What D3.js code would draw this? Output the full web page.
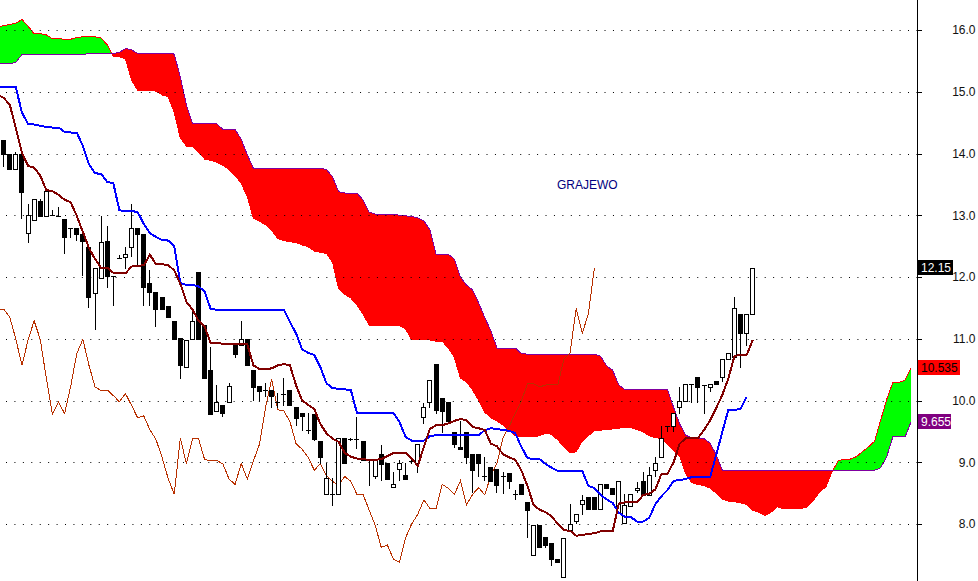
<!DOCTYPE html>
<html><head><meta charset="utf-8">
<script src="https://cdn.jsdelivr.net/npm/d3@7"></script>
<style>body{margin:0;background:#fff}svg{display:block}</style>
</head><body>
<svg id="chart" width="978" height="581"></svg>
<script>
// ---------- DATA ----------
const title = "GRAJEWO";
const yTicks = [8, 9, 10, 11, 12, 13, 14, 15, 16];
// candles, index 0..123
const opens  = [14.22,13.99,13.75,13.99,12.72,12.93,13.23,12.99,13.00,12.99,12.94,12.79,12.79,12.69,12.49,11.74,11.98,12.58,12.02,12.31,12.33,12.49,12.80,12.69,11.90,11.75,11.68,11.53,11.29,11.01,10.54,10.99,12.08,11.22,10.49,9.83,9.93,9.98,10.90,10.90,10.99,10.49,10.23,10.17,10.17,9.98,10.11,10.17,9.90,9.79,9.53,9.78,9.34,8.48,8.48,8.48,9.39,9.38,9.38,9.34,9.03,8.78,9.13,8.98,8.60,8.89,8.79,9.02,8.98,9.74,9.98,10.59,10.04,9.98,9.49,9.24,9.49,9.13,9.13,8.78,8.93,8.89,8.77,8.83,8.48,8.64,8.35,7.50,7.98,7.79,7.69,7.43,7.14,7.90,8.05,8.32,8.43,8.43,8.24,8.64,8.58,8.20,8.01,8.29,8.55,8.70,8.47,8.87,9.08,9.58,9.58,9.89,9.99,10.27,10.38,10.25,10.22,10.32,10.38,10.67,10.70,11.40,11.09,11.40];
const highs  = [14.22,13.99,14.02,13.99,13.19,13.27,13.27,13.39,13.08,13.13,12.94,12.79,12.79,12.69,12.49,12.14,12.99,12.83,12.02,12.35,12.49,13.19,12.80,12.69,12.12,11.75,11.68,11.53,11.29,11.01,10.98,11.47,12.08,11.22,10.87,10.25,9.93,10.29,10.90,11.28,10.99,10.49,10.23,10.28,10.17,10.12,10.36,10.17,9.90,9.79,9.80,9.78,9.34,8.98,8.74,9.39,9.39,9.39,9.74,9.34,9.04,9.03,9.28,8.98,8.85,9.04,8.98,9.04,9.29,9.96,10.34,10.59,10.04,9.98,9.49,9.66,9.49,9.13,9.13,9.08,8.93,8.89,8.85,8.83,8.55,8.64,8.35,7.98,7.98,7.79,7.69,7.43,7.78,8.32,8.16,8.47,8.43,8.43,8.64,8.64,8.58,8.70,8.49,8.48,8.68,8.85,8.92,9.08,9.58,9.58,9.79,10.22,10.27,10.27,10.38,10.25,10.26,10.32,10.67,10.77,11.67,11.40,11.40,12.15];
const lows   = [13.80,13.75,13.75,12.95,12.56,12.93,12.99,12.99,13.00,12.98,12.39,12.64,12.60,12.03,11.51,11.15,11.98,11.84,11.55,12.31,12.15,12.34,12.21,11.55,11.55,11.21,11.48,11.35,10.99,10.36,10.54,10.99,10.99,10.36,9.78,9.83,9.75,9.98,10.70,10.90,10.57,10.01,10.01,10.08,9.90,9.90,9.93,9.92,9.60,9.52,9.48,9.36,8.98,8.48,8.31,8.48,8.98,9.36,9.23,9.04,8.63,8.74,8.71,8.73,8.60,8.71,8.73,8.99,8.85,9.64,9.90,9.80,9.49,9.66,9.25,9.21,8.99,8.52,8.77,8.71,8.69,8.52,8.50,8.59,8.40,8.48,7.79,7.50,7.62,7.63,7.34,7.38,7.14,7.90,8.02,8.17,8.25,8.25,8.24,8.58,8.48,8.20,8.01,8.29,8.52,8.47,8.47,8.77,9.08,9.50,9.50,9.79,9.99,9.97,9.98,9.80,10.15,10.26,10.31,10.67,10.70,10.55,10.90,11.40];
const closes = [13.99,13.75,13.99,13.38,13.00,13.27,12.99,13.39,13.00,12.99,12.64,12.79,12.69,12.59,11.67,12.14,12.56,12.02,12.00,12.31,12.37,12.80,12.69,11.84,11.75,11.48,11.48,11.35,10.99,10.57,10.98,11.29,10.99,10.36,9.78,9.97,9.79,10.23,10.76,10.99,10.57,10.22,10.16,10.17,10.08,9.98,10.11,9.92,9.72,9.75,9.53,9.37,9.08,8.74,8.48,9.39,8.98,9.38,9.38,9.04,9.03,9.03,8.97,8.73,8.64,8.98,8.73,9.02,9.29,9.89,10.34,9.85,9.83,9.66,9.30,9.21,9.08,8.87,8.98,8.78,8.69,8.63,8.77,8.69,8.48,8.48,8.23,7.98,7.62,7.66,7.43,7.38,7.78,8.00,8.16,8.39,8.25,8.25,8.64,8.58,8.48,8.70,8.31,8.48,8.59,8.47,8.79,8.98,9.40,9.58,9.79,9.99,10.27,10.27,10.22,10.25,10.26,10.26,10.67,10.77,11.49,11.09,11.40,12.15];
// lines below start at index -1 (left edge of the picture)
const tenkan = [14.95,14.90,14.79,14.41,14.01,13.80,13.77,13.64,13.41,13.39,13.33,13.25,13.21,12.99,12.73,12.47,12.29,12.15,12.15,12.07,12.06,12.06,12.17,12.18,12.19,12.36,12.21,12.21,12.19,12.11,11.89,11.60,11.47,11.29,11.19,10.93,10.93,10.92,10.91,10.91,10.91,10.91,10.57,10.51,10.51,10.52,10.57,10.59,10.57,10.25,10.00,9.93,9.86,9.62,9.47,9.38,9.33,9.15,9.09,9.06,9.05,9.04,9.04,9.05,9.10,9.15,9.15,9.15,9.06,8.94,9.25,9.54,9.60,9.60,9.63,9.67,9.70,9.68,9.57,9.55,9.52,9.30,9.26,9.13,9.08,9.04,8.87,8.62,8.31,8.23,8.19,8.12,8.00,7.90,7.89,7.81,7.82,7.84,7.85,7.88,7.88,7.88,8.33,8.35,8.35,8.35,8.47,8.49,8.56,8.81,8.81,9.00,9.30,9.39,9.39,9.39,9.52,9.68,9.88,10.09,10.36,10.72,10.74,10.74,10.98];
const kijun = [15.07,15.07,15.07,15.07,14.66,14.48,14.47,14.45,14.43,14.42,14.42,14.35,14.34,14.34,14.12,13.83,13.68,13.67,13.54,13.52,13.08,13.07,13.07,13.05,12.86,12.71,12.65,12.60,12.59,12.50,11.90,11.87,11.87,11.85,11.76,11.48,11.47,11.47,11.47,11.47,11.47,11.47,11.47,11.47,11.47,11.47,11.47,11.47,11.27,11.09,10.83,10.77,10.74,10.54,10.28,10.20,10.19,10.18,10.17,9.80,9.80,9.80,9.80,9.80,9.80,9.80,9.65,9.41,9.35,9.35,9.35,9.42,9.44,9.44,9.44,9.44,9.44,9.44,9.44,9.44,9.52,9.55,9.54,9.52,9.51,9.47,9.25,9.07,9.05,9.05,8.97,8.91,8.86,8.86,8.86,8.86,8.86,8.62,8.58,8.47,8.40,8.34,8.18,8.12,8.11,8.04,8.04,8.10,8.32,8.45,8.55,8.70,8.71,8.73,8.76,8.76,8.76,8.76,9.12,9.49,9.85,9.85,9.86,10.06];
// cloud spans, index -1..149
const spanA = [16.05,16.07,16.09,16.11,16.17,16.06,15.94,15.94,15.92,15.86,15.86,15.85,15.85,15.88,15.89,15.89,15.89,15.87,15.76,15.57,15.57,15.53,15.19,15.02,15.02,15.02,15.01,14.95,14.92,14.67,14.25,14.12,14.11,14.02,13.91,13.89,13.86,13.81,13.74,13.64,13.52,13.30,12.95,12.90,12.85,12.76,12.62,12.59,12.57,12.56,12.52,12.49,12.42,12.40,12.38,12.24,11.81,11.72,11.66,11.55,11.40,11.22,11.21,11.21,11.21,11.21,11.21,11.16,10.98,10.98,10.98,10.98,10.96,10.96,10.85,10.70,10.36,10.30,10.17,10.00,9.81,9.72,9.67,9.60,9.52,9.43,9.42,9.41,9.41,9.43,9.47,9.45,9.36,9.25,9.15,9.17,9.34,9.43,9.51,9.52,9.53,9.54,9.55,9.57,9.56,9.53,9.49,9.43,9.40,9.38,9.29,9.20,9.10,8.81,8.67,8.64,8.62,8.58,8.50,8.40,8.37,8.36,8.34,8.32,8.22,8.19,8.14,8.19,8.28,8.25,8.25,8.25,8.25,8.28,8.39,8.52,8.60,8.84,9.02,9.05,9.05,9.09,9.17,9.25,9.34,9.68,10.02,10.29,10.29,10.33,10.535];
const spanB = [15.45,15.45,15.45,15.48,15.60,15.60,15.60,15.60,15.60,15.60,15.60,15.60,15.60,15.60,15.60,15.62,15.62,15.62,15.62,15.62,15.64,15.70,15.68,15.62,15.62,15.62,15.62,15.62,15.62,15.61,15.24,14.79,14.48,14.48,14.48,14.48,14.48,14.39,14.39,14.39,14.23,13.98,13.76,13.76,13.76,13.76,13.76,13.76,13.76,13.76,13.76,13.76,13.76,13.76,13.74,13.62,13.38,13.36,13.36,13.36,13.25,13.05,13.02,13.02,13.02,13.02,13.00,12.99,12.98,12.96,12.91,12.76,12.37,12.37,12.37,12.29,12.00,11.87,11.79,11.58,11.34,11.13,10.85,10.85,10.85,10.85,10.76,10.75,10.75,10.75,10.75,10.75,10.75,10.75,10.75,10.75,10.75,10.75,10.75,10.72,10.56,10.49,10.25,10.18,10.18,10.18,10.18,10.18,10.18,10.18,10.18,9.89,9.62,9.44,9.39,9.39,9.38,9.31,9.12,8.87,8.87,8.87,8.87,8.87,8.87,8.87,8.87,8.87,8.87,8.87,8.87,8.87,8.87,8.87,8.87,8.87,8.87,8.87,8.87,8.87,8.87,8.87,8.87,8.87,8.87,8.91,9.09,9.41,9.41,9.41,9.655];
const chikouShift = 26;
const lastPrice = 12.15;

// ---------- DRAW ----------
const svg = d3.select("#chart");
const W = 978, H = 581, axisX = 917;
const x = d3.scaleLinear().domain([0, 149]).range([3.7, 911.1]);
const y = d3.scaleLinear().domain([8, 16]).range([524, 30]);

const cloud = spanA.map((a, k) => ({i: k - 1, a, b: spanB[k]}));
const defs = svg.append("defs");
defs.append("clipPath").attr("id", "aboveB").append("path")
  .attr("d", d3.area().x(d => x(d.i)).y0(0).y1(d => y(d.b))(cloud));
defs.append("clipPath").attr("id", "aboveA").append("path")
  .attr("d", d3.area().x(d => x(d.i)).y0(0).y1(d => y(d.a))(cloud));
defs.append("clipPath").attr("id", "plot").append("rect")
  .attr("x", 0).attr("y", 0).attr("width", axisX).attr("height", H);

const band = d3.area().x(d => x(d.i)).y0(d => y(d.a)).y1(d => y(d.b));
const plot = svg.append("g").attr("clip-path", "url(#plot)");
plot.append("path").attr("d", band(cloud)).attr("fill", "#00ff00").attr("clip-path", "url(#aboveB)");
plot.append("path").attr("d", band(cloud)).attr("fill", "#ff0000").attr("clip-path", "url(#aboveA)");
plot.append("path").attr("d", d3.line().x(d => x(d.i)).y(d => y(d.a))(cloud))
  .attr("fill", "none").attr("stroke", "#ff0000").attr("stroke-width", 1).attr("shape-rendering", "crispEdges");
plot.append("path").attr("d", d3.line().x(d => x(d.i)).y(d => y(d.b))(cloud))
  .attr("fill", "none").attr("stroke", "#8000a0").attr("stroke-width", 1).attr("shape-rendering", "crispEdges");

// grid (dotted)
plot.append("g").selectAll("line").data(yTicks).join("line")
  .attr("x1", 6).attr("x2", axisX).attr("y1", d => Math.round(y(d)) + 0.5).attr("y2", d => Math.round(y(d)) + 0.5)
  .attr("stroke", "#000").attr("stroke-width", 1).attr("stroke-dasharray", "1 7.43");

// chikou
const chik = closes.map((c, k) => ({i: k - chikouShift, v: c})).filter(d => d.i >= -1);
plot.append("path").attr("d", d3.line().x(d => x(d.i)).y(d => y(d.v))(chik))
  .attr("fill", "none").attr("stroke", "#b83000").attr("stroke-width", 1).attr("shape-rendering", "crispEdges");

// candles
const candles = opens.map((o, i) => ({i, o, h: highs[i], l: lows[i], c: closes[i]}));
const cg = plot.append("g").attr("shape-rendering", "crispEdges");
candles.forEach(d => {
  const bx = Math.round(x(d.i) - 2.5);
  cg.append("line").attr("x1", bx + 2.5).attr("x2", bx + 2.5)
    .attr("y1", Math.round(y(d.h))).attr("y2", Math.round(y(d.l)) + 1).attr("stroke", "#000");
  const top = Math.round(y(Math.max(d.o, d.c))), bot = Math.round(y(Math.min(d.o, d.c)));
  if (bot - top < 2) {
    cg.append("rect").attr("x", bx).attr("y", top).attr("width", 5).attr("height", Math.max(1, bot - top)).attr("fill", "#000");
  } else if (d.c >= d.o) {
    cg.append("rect").attr("x", bx + 0.5).attr("y", top + 0.5).attr("width", 4).attr("height", bot - top)
      .attr("fill", "#fff").attr("stroke", "#000");
  } else {
    cg.append("rect").attr("x", bx).attr("y", top).attr("width", 5).attr("height", bot - top + 1).attr("fill", "#000");
  }
});

// kijun & tenkan
plot.append("path").attr("d", d3.line().x((v, k) => x(k - 1)).y(v => y(v))(kijun))
  .attr("fill", "none").attr("stroke", "#0000ff").attr("stroke-width", 2).attr("shape-rendering", "crispEdges");
plot.append("path").attr("d", d3.line().x((v, k) => x(k - 1)).y(v => y(v))(tenkan))
  .attr("fill", "none").attr("stroke", "#800000").attr("stroke-width", 2).attr("shape-rendering", "crispEdges");

// title
svg.append("text").attr("x", 557).attr("y", 188.5).text(title)
  .attr("font-family", "Liberation Sans, Arial, sans-serif").attr("font-size", 12).attr("fill", "#000080");

// right axis
svg.append("line").attr("x1", axisX + 0.5).attr("x2", axisX + 0.5).attr("y1", 0).attr("y2", H)
  .attr("stroke", "#000").attr("stroke-width", 1);
const ax = svg.append("g").attr("transform", `translate(${axisX + 0.5},0)`)
  .call(d3.axisRight(y).tickValues(yTicks).tickFormat(d3.format(".1f")).tickSize(4).tickPadding(0));
ax.select(".domain").remove();
ax.selectAll(".tick line").attr("stroke", "#000").attr("shape-rendering", "crispEdges");
ax.selectAll(".tick text").attr("x", 58).attr("text-anchor", "end")
  .attr("font-family", "Liberation Sans, Arial, sans-serif").attr("font-size", 12).attr("fill", "#111");

// value boxes
const boxes = [
  {v: lastPrice, label: "12.15", fill: "#000", color: "#fff", w: 35},
  {v: spanA[spanA.length - 1], label: "10.535", fill: "#ff0000", color: "#000", w: 42},
  {v: spanB[spanB.length - 1], label: "9.655", fill: "#800080", color: "#fff", w: 33},
];
boxes.forEach(b => {
  const cy = y(b.v);
  svg.append("rect").attr("x", axisX + 1).attr("y", Math.round(cy - 7.5)).attr("width", b.w).attr("height", 15).attr("fill", b.fill);
  svg.append("text").attr("x", axisX + 4).attr("y", Math.round(cy + 4.5)).text(b.label)
    .attr("font-family", "Liberation Sans, Arial, sans-serif").attr("font-size", 12).attr("fill", b.color);
});
</script>
</body></html>
